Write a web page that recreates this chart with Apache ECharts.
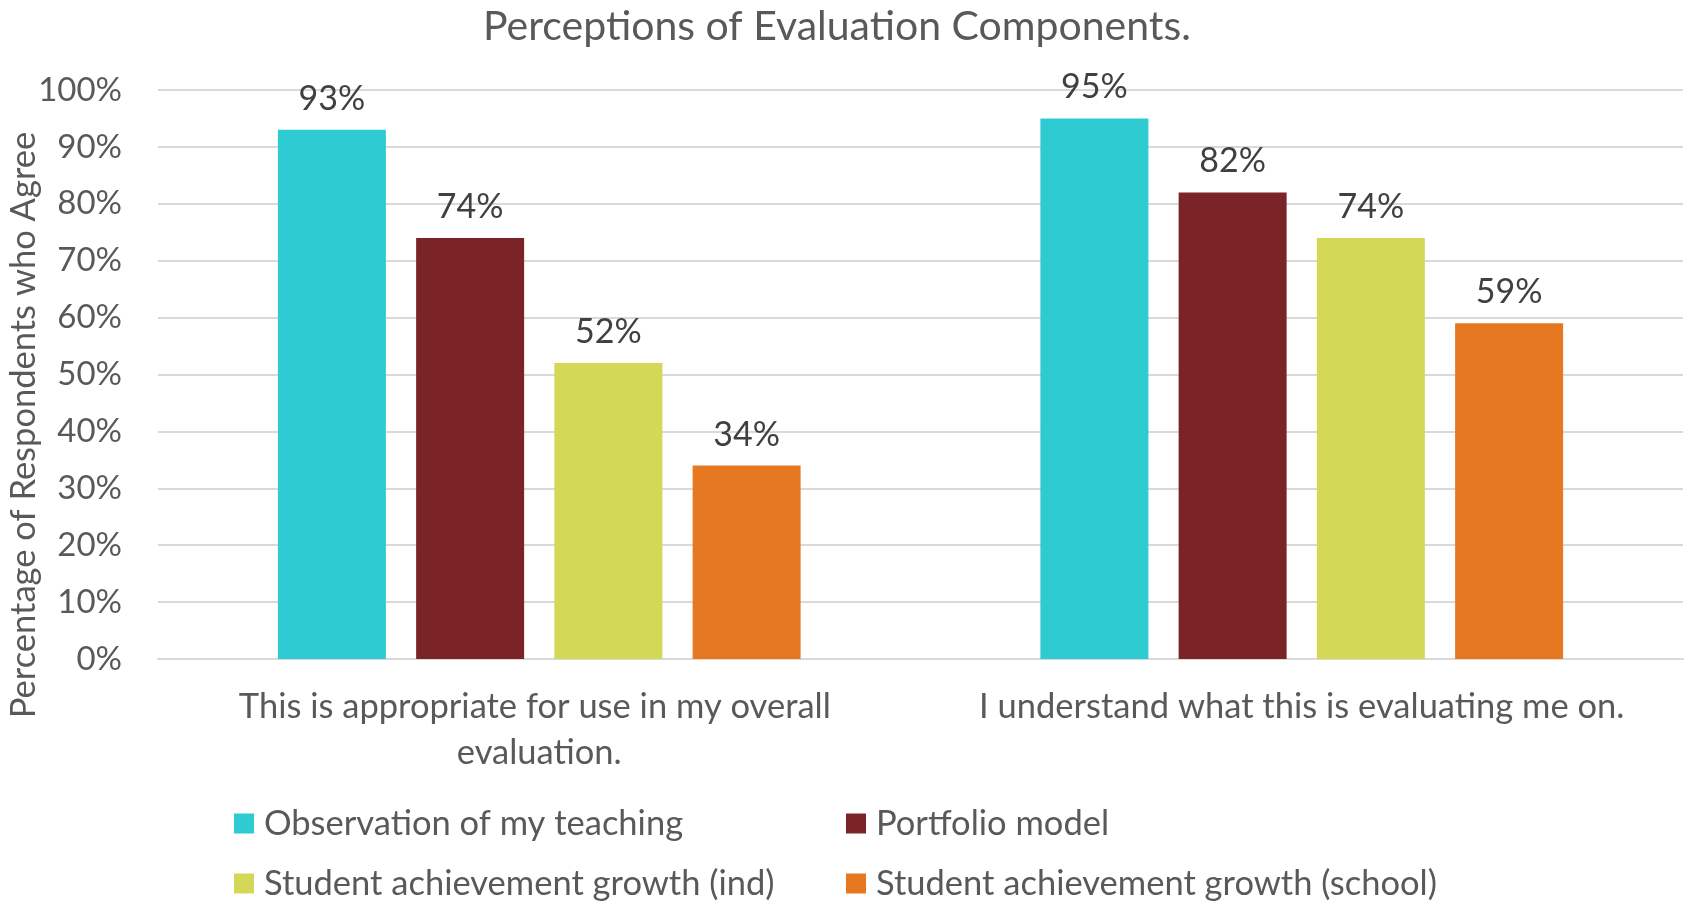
<!DOCTYPE html>
<html>
<head>
<meta charset="utf-8">
<title>Perceptions of Evaluation Components.</title>
<script src="https://cdn.jsdelivr.net/npm/echarts@6/dist/echarts.min.js"></script>
<style>
  html, body { margin: 0; padding: 0; background: #fff; }
  #chart { width: 1688px; height: 902px; }
</style>
</head>
<body>
<div id="chart"></div>
<script>
  // categories and series values (percent agree)
  var categories = [
    'This is appropriate for use in my overall evaluation.',
    'I understand what this is evaluating me on.'
  ]
  var seriesNames = [
    'Observation of my teaching',
    'Portfolio model',
    'Student achievement growth (ind)',
    'Student achievement growth (school)'
  ]
  var observation = [93, 95]
  var portfolio = [74, 82]
  var growthInd = [52, 74]
  var growthSchool = [34, 59]
  var yTicks = [0, 10, 20, 30, 40, 50, 60, 70, 80, 90, 100]

  var colors = ['#2ECBD2', '#7B2428', '#D3D856', '#E77822']
  var fontFamily = 'Lato'
  var textColor = '#595959'

  var myChart = echarts.init(document.getElementById('chart'))

  function bar(name, data) {
    return {
      name: name,
      type: 'bar',
      data: data,
      barWidth: 108,
      barGap: '28%',
      label: {
        show: true,
        position: 'top',
        distance: 14,
        formatter: '{c}%',
        fontFamily: fontFamily,
        fontSize: 34,
        color: '#404040'
      }
    }
  }

  // one legend per item so they line up in two columns like the original
  function legendItem(name, left, top) {
    return {
      data: [name],
      left: left,
      top: top,
      padding: 0,
      icon: 'rect',
      itemWidth: 20,
      itemHeight: 20,
      selectedMode: false,
      textStyle: {
        fontFamily: fontFamily,
        fontSize: 34.5,
        color: textColor,
        padding: [0, 0, 0, 5]
      }
    }
  }

  myChart.setOption({
    animation: false,
    color: colors,
    title: {
      text: 'Perceptions of Evaluation Components.',
      left: 832,
      textAlign: 'center',
      top: 1,
      textStyle: {
        fontFamily: fontFamily,
        fontSize: 41,
        fontWeight: 'normal',
        color: textColor
      }
    },
    legend: [
      legendItem(seriesNames[0], 234, 806),
      legendItem(seriesNames[1], 846, 806),
      legendItem(seriesNames[2], 234, 866),
      legendItem(seriesNames[3], 846, 866)
    ],
    grid: {
      left: 158,
      right: 5,
      top: 90,
      bottom: 243,
      containLabel: false
    },
    xAxis: {
      type: 'category',
      data: categories,
      axisLine: { lineStyle: { color: '#D9D9D9', width: 2 } },
      axisTick: { show: false },
      axisLabel: {
        interval: 0,
        margin: 25,
        width: 710,
        overflow: 'break',
        lineHeight: 46,
        fontFamily: fontFamily,
        fontSize: 34.5,
        color: textColor
      }
    },
    yAxis: {
      type: 'value',
      min: yTicks[0],
      max: yTicks[yTicks.length - 1],
      interval: 10,
      axisLine: { show: false },
      axisTick: { show: false },
      splitLine: { lineStyle: { color: '#D9D9D9', width: 2 } },
      axisLabel: {
        margin: 36,
        formatter: '{value}%',
        fontFamily: fontFamily,
        fontSize: 33,
        color: textColor
      }
    },
    graphic: [{
      type: 'text',
      x: 24,
      y: 425,
      rotation: Math.PI / 2,
      style: {
        text: 'Percentage of Respondents who Agree',
        align: 'center',
        verticalAlign: 'middle',
        font: '34.5px Lato',
        fill: textColor
      }
    }],
    series: [
      bar(seriesNames[0], observation),
      bar(seriesNames[1], portfolio),
      bar(seriesNames[2], growthInd),
      bar(seriesNames[3], growthSchool)
    ]
  })
</script>
</body>
</html>
